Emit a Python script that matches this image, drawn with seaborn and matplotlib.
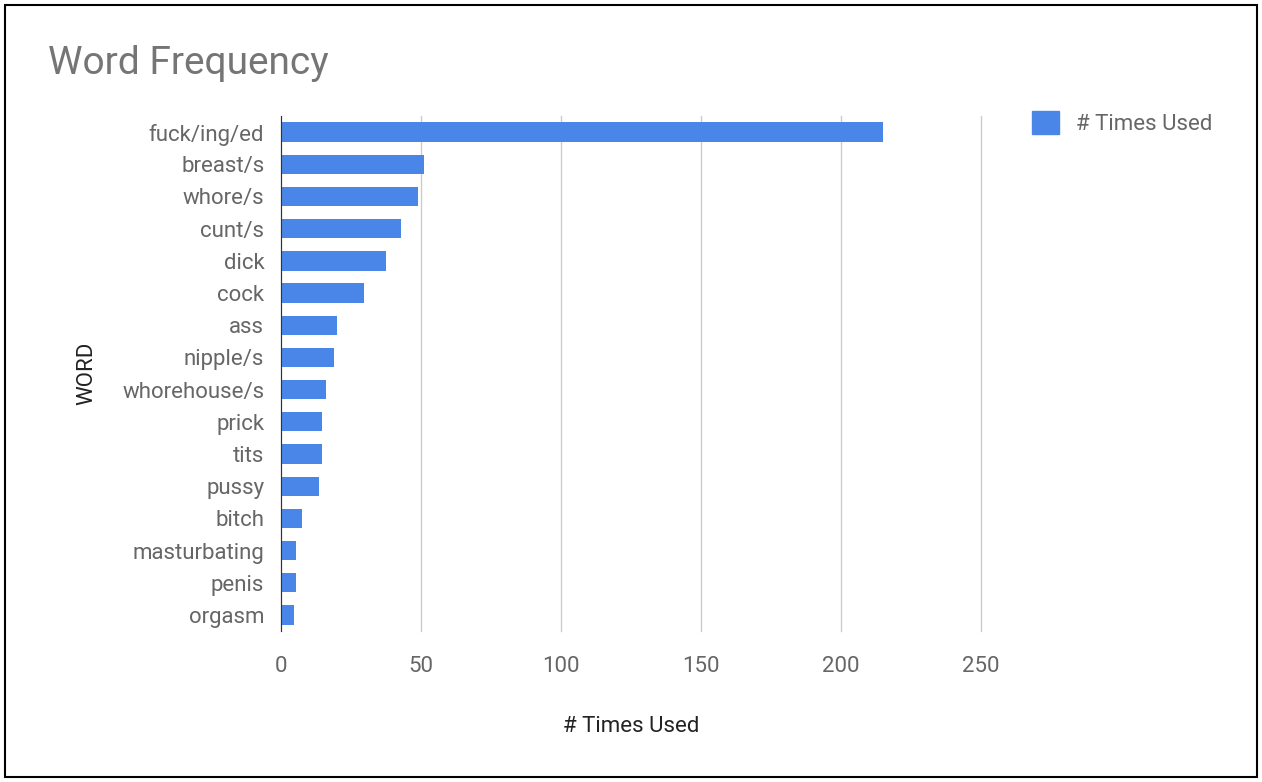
import matplotlib
matplotlib.use("Agg")
import matplotlib.pyplot as plt
import seaborn as sns
import pandas as pd
from matplotlib.patches import Rectangle

words = ["fuck/ing/ed", "breast/s", "whore/s", "cunt/s", "dick", "cock", "ass",
         "nipple/s", "whorehouse/s", "prick", "tits", "pussy", "bitch",
         "masturbating", "penis", "orgasm"]
times_used = [215, 51, 49, 43, 37.5, 29.5, 20, 19, 16, 14.5, 14.5, 13.5, 7.5, 5.5, 5.5, 4.5]
xticks = [0, 50, 100, 150, 200, 250]

plt.rcParams["font.family"] = "Roboto"
df = pd.DataFrame({"word": words, "times": times_used})
blue = "#4a86e8"
grey = "#666666"

fig = plt.figure(figsize=(12.62, 7.82), dpi=100)
ax = fig.add_axes([281/1262, 1-631/782, 700/1262, 515/782])
sns.barplot(data=df, x="times", y="word", color=blue, width=0.6, ax=ax, saturation=1)
ax.set_xlim(0, 250)
ax.set_xticks(xticks)
ax.grid(axis="x", color="#cccccc", linewidth=1, clip_on=False)
for gl in ax.get_xgridlines():
    gl.set_clip_on(False)
ax.set_axisbelow(True)
for s in ["top", "right", "bottom"]:
    ax.spines[s].set_visible(False)
ax.spines["left"].set_color("#333333")
ax.tick_params(length=0, labelsize=16, colors=grey, pad=12)
ax.tick_params(axis="x", pad=18)
ax.set_xlabel("# Times Used", fontsize=16, color="#222222", labelpad=28)
ax.set_ylabel("WORD", fontsize=16, color="#222222", labelpad=18)

fig.text(48/1262, 1-63/782, "Word Frequency", fontsize=28, color="#757575", va="center")
fig.legend(handles=[Rectangle((0, 0), 1, 1, color=blue)], labels=["# Times Used"],
           loc="center left", bbox_to_anchor=(1012/1262, 1-123/782), frameon=False,
           fontsize=16, labelcolor=grey, handlelength=1.2, handleheight=1.2)
fig.add_artist(Rectangle((5/1262, 5/782), 1252/1262, 772/782, transform=fig.transFigure,
                         fill=False, edgecolor="black", linewidth=1.5))
fig.savefig("out.png", dpi=100)
